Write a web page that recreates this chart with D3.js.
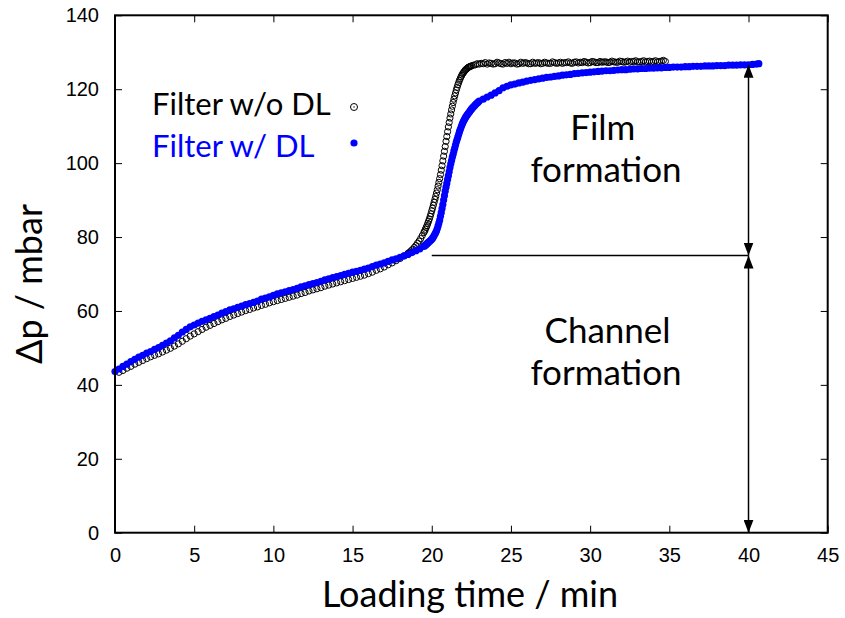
<!DOCTYPE html>
<html>
<head>
<meta charset="utf-8">
<script src="https://cdn.jsdelivr.net/npm/d3@7/dist/d3.min.js"></script>
<style>
body { margin: 0; background: #fff; }
svg text { font-family: Lato, sans-serif; fill: #000; }
.tick text { font-family: "Liberation Sans", Arial, sans-serif; font-size: 20px; }
</style>
</head>
<body>
<svg id="canvas" width="845" height="618"></svg>
<script>
// tick values
let xTicks = [0, 5, 10, 15, 20, 25, 30, 35, 40, 45]
let yTicks = [0, 20, 40, 60, 80, 100, 120, 140]

// Filter w/o DL  [time (min), dp (mbar)]
let filterWoDL = [
[0.25,43.4],[0.5,43.9],[0.75,44.5],[1,45.0],[1.25,45.6],[1.5,46.1],[1.75,46.6],[2,47.1],[2.25,47.6],[2.5,48.0],
[2.75,48.4],[3,48.9],[3.25,49.4],[3.5,49.9],[3.75,50.5],[4,51.1],[4.25,51.8],[4.5,52.5],[4.75,53.2],[5,53.8],
[5.25,54.4],[5.5,55.0],[5.75,55.6],[6,56.1],[6.25,56.6],[6.5,57.1],[6.75,57.6],[7,58.0],[7.25,58.5],[7.5,58.9],
[7.75,59.3],[8,59.7],[8.25,60.1],[8.5,60.4],[8.75,60.8],[9,61.1],[9.25,61.5],[9.5,61.8],[9.75,62.2],[10,62.5],
[10.25,62.8],[10.5,63.1],[10.75,63.4],[11,63.7],[11.25,64.0],[11.5,64.3],[11.75,64.7],[12,65.0],[12.25,65.4],[12.5,65.7],
[12.75,66.0],[13,66.3],[13.25,66.7],[13.5,67.0],[13.75,67.3],[14,67.6],[14.25,67.9],[14.5,68.2],[14.75,68.5],[15,68.8],
[15.25,69.1],[15.5,69.4],[15.75,69.7],[16,70.1],[16.25,70.5],[16.5,71.0],[16.75,71.4],[17,71.9],[17.25,72.5],[17.5,73.0],
[17.75,73.6],[18,74.2],[18.25,74.9],[18.5,75.6],[18.6,75.9],[18.7,76.3],[18.8,76.7],[18.9,77.2],[19,77.7],
[19.1,78.3],[19.2,78.9],[19.3,79.6],[19.4,80.4],[19.5,81.2],
[19.55,81.6],[19.6,82.1],[19.65,82.6],[19.7,83.1],[19.75,83.7],[19.8,84.3],[19.85,84.9],[19.9,85.6],[19.95,86.3],[20,87.1],
[20.05,87.8],[20.1,88.6],[20.15,89.4],[20.2,90.2],[20.25,91.0],[20.3,91.9],[20.35,92.8],[20.4,93.8],[20.45,94.8],[20.5,95.8],
[20.55,96.9],[20.6,98.1],[20.65,99.3],[20.7,100.6],[20.75,101.9],[20.8,103.2],[20.85,104.5],[20.9,105.9],[20.95,107.2],[21,108.5],
[21.05,109.8],[21.1,111.0],[21.15,112.2],[21.2,113.3],[21.25,114.4],[21.3,115.4],[21.35,116.4],[21.4,117.3],[21.45,118.2],[21.5,119.0],
[21.55,119.8],[21.6,120.5],[21.65,121.2],[21.7,121.8],[21.75,122.4],[21.8,122.9],[21.85,123.4],[21.9,123.8],[21.95,124.2],[22,124.5],
[22.05,124.8],[22.1,125.1],[22.15,125.3],[22.2,125.5],[22.25,125.7],[22.3,125.9],[22.35,126.0],[22.4,126.1],[22.45,126.2],[22.5,126.3],
[22.625,126.5],[22.75,126.6],[22.875,126.9],[23,126.8],[23.125,127.0],[23.25,126.9],[23.375,127.2],[23.5,126.8],[23.625,127.1],[23.75,127.0],
[23.875,126.8],[24,126.9],[24.125,127.3],[24.25,127.1],[24.375,126.9],[24.5,126.8],[24.625,127.2],[24.75,127.0],[24.875,127.3],[25,126.9],
[25.125,127.1],[25.25,127.1],[25.375,126.8],[25.5,126.9],[25.625,127.3],[25.75,127.0],[25.875,127.2],[26,127.1],[26.125,126.9],[26.25,126.9],
[26.375,127.3],[26.5,127.0],[26.625,127.1],[26.75,127.2],[26.875,126.9],[27,127.0],[27.125,127.3],[27.25,127.1],[27.375,127.0],[27.5,127.0],
[27.625,127.4],[27.75,127.2],[27.875,127.0],[28,127.1],[28.125,127.3],[28.25,127.0],[28.375,127.2],[28.5,127.2],[28.625,127.4],[28.75,127.1],
[28.875,127.0],[29,127.3],[29.125,127.4],[29.25,127.1],[29.375,127.3],[29.5,127.2],[29.625,127.5],[29.75,127.3],[29.875,127.1],[30,127.2],
[30.125,127.5],[30.25,127.4],[30.375,127.2],[30.5,127.2],[30.625,127.5],[30.75,127.3],[30.875,127.4],[31,127.4],[31.125,127.2],[31.25,127.3],
[31.375,127.6],[31.5,127.4],[31.625,127.3],[31.75,127.3],[31.875,127.6],[32,127.5],[32.125,127.3],[32.25,127.4],[32.375,127.6],[32.5,127.3],
[32.625,127.5],[32.75,127.5],[32.875,127.7],[33,127.4],[33.125,127.4],[33.25,127.5],[33.375,127.7],[33.5,127.4],[33.625,127.5],[33.75,127.6],
[33.875,127.4],[34,127.5],[34.125,127.7],[34.25,127.4],[34.375,127.5],[34.5,127.6],[34.625,127.8],[34.75,127.5]
]

// Filter w/ DL  [time (min), dp (mbar)]
let filterWDL = [
[0,43.6],[0.25,44.3],[0.5,45.0],[0.75,45.6],[1,46.3],[1.25,46.9],[1.5,47.5],[1.75,48.0],[2,48.6],[2.25,49.0],
[2.5,49.6],[2.75,50.1],[3,50.7],[3.25,51.3],[3.5,51.9],[3.75,52.7],[4,53.4],[4.25,54.3],[4.5,55.0],[4.75,55.7],
[5,56.2],[5.25,56.7],[5.5,57.2],[5.75,57.6],[6,58.0],[6.25,58.5],[6.5,58.9],[6.75,59.4],[7,59.8],[7.25,60.3],
[7.5,60.6],[7.75,61.0],[8,61.3],[8.25,61.7],[8.5,62.0],[8.75,62.3],[9,62.7],[9.25,63.2],[9.5,63.5],[9.75,63.8],
[10,64.2],[10.25,64.6],[10.5,64.9],[10.75,65.2],[11,65.5],[11.25,65.8],[11.5,66.1],[11.75,66.5],[12,66.8],[12.25,67.1],
[12.5,67.4],[12.75,67.7],[13,68.0],[13.25,68.4],[13.5,68.7],[13.75,69.0],[14,69.3],[14.25,69.6],[14.5,69.9],[14.75,70.2],
[15,70.5],[15.25,70.7],[15.5,71.0],[15.75,71.3],[16,71.6],[16.25,72.0],[16.5,72.4],[16.75,72.7],[17,73.0],[17.25,73.4],
[17.5,73.8],[17.75,74.1],[18,74.5],[18.25,74.9],[18.5,75.3],[18.75,75.8],[19,76.3],[19.25,76.8],[19.5,77.5],
[19.55,77.6],[19.6,77.8],[19.65,78.0],[19.7,78.2],[19.75,78.4],[19.8,78.6],[19.85,78.8],[19.9,79.0],[19.95,79.2],[20,79.4],
[20.05,79.7],[20.1,80.0],[20.15,80.4],[20.2,80.8],[20.25,81.2],[20.3,81.7],[20.35,82.3],[20.4,83.0],[20.45,83.8],[20.5,84.6],
[20.55,85.6],[20.6,86.6],[20.65,87.7],[20.7,88.8],[20.75,90.0],[20.8,91.2],[20.85,92.4],[20.9,93.5],[20.95,94.5],[21,95.6],
[21.05,96.6],[21.1,97.7],[21.15,98.8],[21.2,99.8],[21.25,100.7],[21.3,101.6],[21.35,102.4],[21.4,103.3],[21.45,104.1],[21.5,104.9],
[21.55,105.7],[21.6,106.4],[21.65,107.1],[21.7,107.8],[21.75,108.5],[21.8,109.1],[21.85,109.7],[21.9,110.3],[21.95,110.8],[22,111.3],
[22.05,111.7],[22.1,112.1],[22.15,112.5],[22.2,112.8],[22.25,113.1],[22.3,113.4],[22.35,113.7],[22.4,114.0],[22.45,114.3],[22.5,114.6],
[22.55,114.8],[22.6,115.1],[22.65,115.3],[22.7,115.5],[22.75,115.8],[22.8,116.0],[22.85,116.2],[22.9,116.4],[22.95,116.6],[23,116.8],
[23.25,117.3],[23.5,117.9],[23.75,118.4],[24,119.0],[24.25,119.6],[24.5,120.4],[24.75,120.8],[25,121.2],[25.25,121.4],[25.5,121.7],
[25.75,121.9],[26,122.2],[26.25,122.4],[26.5,122.6],[26.75,122.8],[27,123.0],[27.25,123.2],[27.5,123.3],[27.75,123.5],[28,123.6],
[28.25,123.8],[28.5,123.9],[28.75,124.0],[29,124.2],[29.25,124.3],[29.5,124.4],[29.75,124.5],[30,124.6],[30.25,124.7],[30.5,124.8],
[30.75,124.9],[31,125.0],[31.25,125.0],[31.5,125.1],[31.75,125.2],[32,125.3],[32.25,125.3],[32.5,125.4],[32.75,125.5],[33,125.5],
[33.25,125.6],[33.5,125.6],[33.75,125.7],[34,125.7],[34.25,125.8],[34.5,125.8],[34.75,125.9],[35,125.9],[35.25,126.0],[35.5,126.0],
[35.75,126.0],[36,126.1],[36.25,126.1],[36.5,126.2],[36.75,126.2],[37,126.2],[37.25,126.3],[37.5,126.3],[37.75,126.3],[38,126.4],
[38.25,126.4],[38.5,126.4],[38.75,126.5],[39,126.5],[39.25,126.5],[39.5,126.6],[39.75,126.6],[40,126.6],[40.25,126.7],[40.5,126.8],
[40.65,126.9]
]

// annotation: stage boundary and the two stages
let boundaryLine = [[20, 75], [40, 75]]
let stageArrows = [[40, 75, 126.6], [40, 0, 75]]
let stageLabels = [
    {x: 30.8, y: 106.2, text: "Film"},
    {x: 31, y: 95, text: "formation"},
    {x: 31.1, y: 51.2, text: "Channel"},
    {x: 31, y: 40, text: "formation"}
]

let canvas = d3.select('#canvas')

let plotL = 115, plotR = 827.7, plotT = 15.3, plotB = 532.7

let x = d3.scaleLinear().domain([0, 45]).range([plotL, plotR])
let y = d3.scaleLinear().domain([0, 140]).range([plotB, plotT])

canvas.append('rect').attr('width', 845).attr('height', 618).attr('fill', '#fff')

// arrow head
canvas.append('defs').append('marker')
    .attr('id', 'head')
    .attr('viewBox', '0 0 13 10')
    .attr('refX', 13).attr('refY', 5)
    .attr('markerWidth', 13).attr('markerHeight', 10)
    .attr('markerUnits', 'userSpaceOnUse')
    .attr('orient', 'auto-start-reverse')
    .append('path')
    .attr('d', 'M0,0 L13,5 L0,10 Z')
    .attr('fill', '#000')

// axes with inside ticks, mirrored on top/right
canvas.append('g').attr('transform', 'translate(0,' + plotB + ')')
    .call(d3.axisBottom(x).tickValues(xTicks).tickSizeInner(-7).tickSizeOuter(0).tickPadding(15))
canvas.append('g').attr('transform', 'translate(0,' + plotT + ')')
    .call(d3.axisTop(x).tickValues(xTicks).tickSizeInner(-7).tickSizeOuter(0).tickFormat(''))
canvas.append('g').attr('transform', 'translate(' + plotL + ',0)')
    .call(d3.axisLeft(y).tickValues(yTicks).tickSizeInner(-7).tickSizeOuter(0).tickPadding(16))
canvas.append('g').attr('transform', 'translate(' + plotR + ',0)')
    .call(d3.axisRight(y).tickValues(yTicks).tickSizeInner(-7).tickSizeOuter(0).tickFormat(''))

canvas.selectAll('.domain').remove()
canvas.selectAll('.tick line').attr('stroke', '#000').attr('stroke-width', 1)
canvas.selectAll('.tick text').attr('fill', '#000')

// data
canvas.append('g').selectAll('circle')
    .data(filterWoDL)
    .enter()
    .append('circle')
    .attr('cx', d => x(d[0]))
    .attr('cy', d => y(d[1]))
    .attr('r', 3.1)
    .attr('fill', 'none')
    .attr('stroke', '#000')
    .attr('stroke-width', 1)

canvas.append('g').selectAll('circle')
    .data(filterWDL)
    .enter()
    .append('circle')
    .attr('cx', d => x(d[0]))
    .attr('cy', d => y(d[1]))
    .attr('r', 3.6)
    .attr('fill', '#0000ff')

// stage markup
canvas.append('line')
    .attr('x1', x(boundaryLine[0][0])).attr('y1', y(boundaryLine[0][1]))
    .attr('x2', x(boundaryLine[1][0])).attr('y2', y(boundaryLine[1][1]))
    .attr('stroke', '#000').attr('stroke-width', 1.5)

canvas.selectAll('.stage')
    .data(stageArrows)
    .enter()
    .append('line')
    .attr('class', 'stage')
    .attr('x1', d => x(d[0])).attr('y1', d => y(d[1]))
    .attr('x2', d => x(d[0])).attr('y2', d => y(d[2]))
    .attr('stroke', '#000').attr('stroke-width', 1.5)
    .attr('marker-start', 'url(#head)')
    .attr('marker-end', 'url(#head)')

canvas.selectAll('.lbl')
    .data(stageLabels)
    .enter()
    .append('text')
    .attr('class', 'lbl')
    .attr('x', d => x(d.x))
    .attr('y', d => y(d.y))
    .attr('text-anchor', 'middle')
    .style('font-size', '35px')
    .text(d => d.text)

// legend
let legend = canvas.append('g')
legend.append('text').attr('x', 152).attr('y', 115).style('font-size', '31px').text('Filter w/o DL')
legend.append('circle').attr('cx', 354).attr('cy', 107).attr('r', 3.5)
    .attr('fill', 'none').attr('stroke', '#000').attr('stroke-width', 1)
legend.append('circle').attr('cx', 354).attr('cy', 107).attr('r', 0.7).attr('fill', '#000')
legend.append('text').attr('x', 152).attr('y', 156.5).style('font-size', '31px')
    .style('fill', '#0000ff').text('Filter w/ DL')
legend.append('circle').attr('cx', 354).attr('cy', 143).attr('r', 3.6).attr('fill', '#0000ff')

// frame
canvas.append('rect')
    .attr('x', plotL).attr('y', plotT)
    .attr('width', plotR - plotL).attr('height', plotB - plotT)
    .attr('fill', 'none').attr('stroke', '#000').attr('stroke-width', 2)

// axis titles
canvas.append('text')
    .attr('x', 470).attr('y', 607)
    .attr('text-anchor', 'middle')
    .style('font-size', '36px')
    .text('Loading time / min')

canvas.append('text')
    .attr('transform', 'translate(42,284) rotate(-90)')
    .attr('text-anchor', 'middle')
    .style('font-size', '36px')
    .text('Δp / mbar')
</script>
</body>
</html>
